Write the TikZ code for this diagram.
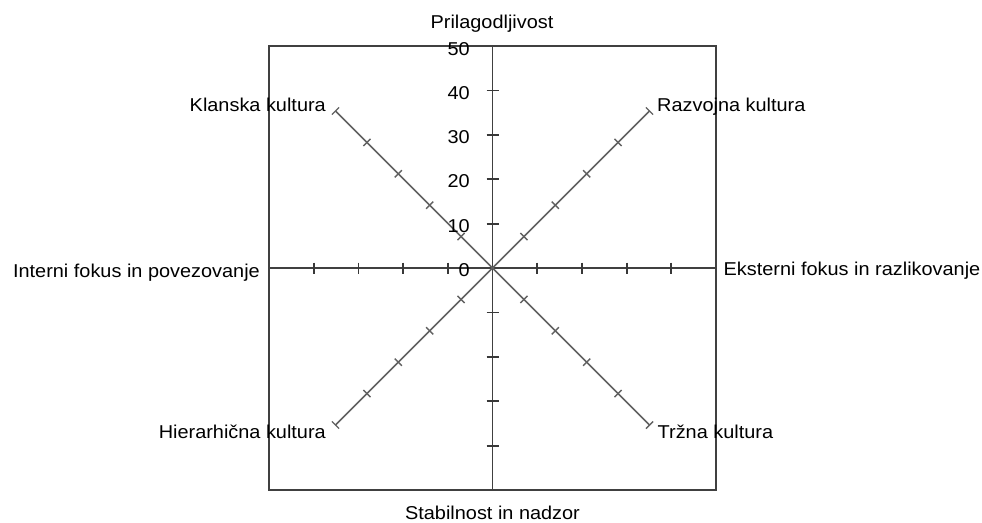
\documentclass[tikz,border=0pt]{standalone}
\usepackage{fontspec}
\setmainfont{Liberation Sans}[FakeStretch=1.07]
\usetikzlibrary{calc}
\begin{document}
\begin{tikzpicture}[x=1pt,y=-1pt,
  font=\fontsize{18.6}{22}\selectfont,
  axisline/.style={draw=black!75, line width=1.9pt},
  diagline/.style={draw=black!62, line width=1.6pt},
  ticmark/.style={draw=black!78, line width=1.8pt},
  diagtick/.style={draw=black!62, line width=1.4pt},
  lbl/.style={inner sep=0pt, text=black}]
\useasboundingbox (0,0) rectangle (982,522);
% key coordinates
\coordinate (C) at (492.5,268);
\coordinate (T) at (492.5,46);
\coordinate (B) at (492.5,490);
\coordinate (L) at (269,268);
\coordinate (R) at (716,268);
\coordinate (NE) at (649.5,111);
\coordinate (NW) at (335.5,111);
\coordinate (SW) at (335.5,425);
\coordinate (SE) at (649.5,425);
% frame
\draw[axisline] (L|-T) rectangle (R|-B);
% axes
\draw[axisline] (T) -- (B);
\draw[axisline] (L) -- (R);
% axis ticks
\foreach \k in {1,2,3,4}{
  \draw[ticmark] ($(C)+(\k*44.7,-5.5)$) -- ($(C)+(\k*44.7,5.5)$);
  \draw[ticmark] ($(C)+(-\k*44.7,-5.5)$) -- ($(C)+(-\k*44.7,5.5)$);
  \draw[ticmark] ($(C)+(-6,\k*44.4)$) -- ($(C)+(6,\k*44.4)$);
  \draw[ticmark] ($(C)+(-6,-\k*44.4)$) -- ($(C)+(6,-\k*44.4)$);
}
% diagonals
\draw[diagline] (C) -- (NE);
\draw[diagline] (C) -- (NW);
\draw[diagline] (C) -- (SW);
\draw[diagline] (C) -- (SE);
\foreach \f in {0.2,0.4,0.6,0.8,1.0}{
  \draw[diagtick] ($(C)!\f!(NE)+(-3.6,-3.6)$) -- ($(C)!\f!(NE)+(3.6,3.6)$);
  \draw[diagtick] ($(C)!\f!(SW)+(-3.6,-3.6)$) -- ($(C)!\f!(SW)+(3.6,3.6)$);
  \draw[diagtick] ($(C)!\f!(NW)+(-3.6,3.6)$) -- ($(C)!\f!(NW)+(3.6,-3.6)$);
  \draw[diagtick] ($(C)!\f!(SE)+(-3.6,3.6)$) -- ($(C)!\f!(SE)+(3.6,-3.6)$);
}
% scale labels
\node[lbl, anchor=base east] (v50) at (470,55.5) {50};
\node[lbl, anchor=base east] (v40) at (470,99.3) {40};
\node[lbl, anchor=base east] (v30) at (470,143.5) {30};
\node[lbl, anchor=base east] (v20) at (470,187.8) {20};
\node[lbl, anchor=base east] (v10) at (470,232.2) {10};
\node[lbl, anchor=base east] (v0) at (470,276) {0};
% axis titles
\node[lbl, anchor=base] (top) at (492,28.3) {Prilagodljivost};
\node[lbl, anchor=base] (bot) at (492.5,519) {Stabilnost in nadzor};
\node[lbl, anchor=base east] (lft) at (260,277.3) {Interni fokus in povezovanje};
\node[lbl, anchor=base west] (rgt) at (723.5,275.5) {Eksterni fokus in razlikovanje};
% quadrant labels
\node[lbl, anchor=base east] (klan) at (326,111.7) {Klanska kultura};
\node[lbl, anchor=base west] (razv) at (657,111.7) {Razvojna kultura};
\node[lbl, anchor=base east] (hier) at (326,438.3) {Hierarhična kultura};
\node[lbl, anchor=base west] (trz) at (657.5,438.3) {Tržna kultura};
\end{tikzpicture}
\end{document}
